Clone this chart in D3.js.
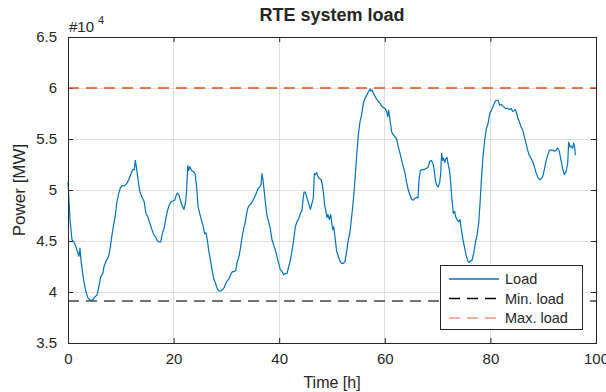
<!DOCTYPE html>
<html><head><meta charset="utf-8">
<script src="https://cdn.jsdelivr.net/npm/d3@7"></script>
<style>
html,body{margin:0;padding:0;background:#fff;}
svg text{font-family:"Liberation Sans",Arial,Helvetica,sans-serif;fill:#262626;}
</style></head>
<body>
<svg id="chart" width="606" height="392"></svg>
<script>
const hours = [0.0,0.38,0.76,1.14,1.52,1.89,2.08,2.27,2.46,2.78,3.09,3.41,3.79,4.17,4.67,5.05,5.49,5.81,6.19,6.57,6.88,7.2,7.7,8.02,8.33,8.65,8.96,9.22,9.53,9.91,10.23,10.67,11.1,11.49,11.93,12.25,12.56,12.75,13.0,13.32,13.64,14.0,14.4,14.77,15.09,15.4,15.72,16.04,16.35,16.6,16.92,17.23,17.55,17.86,18.18,18.5,18.81,19.13,19.45,19.76,20.2,20.52,20.71,21.02,21.34,21.66,21.97,22.29,22.48,22.67,22.86,23.04,23.23,23.42,23.74,24.05,24.37,24.62,24.94,25.25,25.63,25.88,26.14,26.39,26.64,27.02,27.34,27.65,27.97,28.29,28.6,28.91,29.23,29.55,29.86,30.18,30.5,30.81,31.13,31.44,31.76,32.07,32.39,32.7,32.95,33.27,33.59,33.78,34.03,34.34,34.72,35.04,35.35,35.67,35.98,36.3,36.55,36.74,36.93,37.18,37.44,37.69,38.0,38.32,38.64,38.95,39.27,39.58,39.9,40.21,40.53,40.85,41.16,41.48,41.8,42.11,42.42,42.74,43.06,43.37,43.69,44.0,44.32,44.51,44.7,44.95,45.27,45.58,45.9,46.21,46.46,46.65,46.84,47.1,47.35,47.66,47.98,48.23,48.42,48.61,48.86,49.05,49.24,49.5,49.75,50.0,50.13,50.32,50.57,50.88,51.2,51.52,51.83,52.15,52.46,52.78,53.09,53.41,53.73,54.04,54.36,54.67,54.99,55.3,55.62,55.94,56.25,56.57,56.88,57.2,57.39,57.58,57.83,58.14,58.46,58.78,59.09,59.41,59.72,60.04,60.35,60.54,60.73,60.98,61.3,61.62,61.93,62.25,62.56,62.88,63.2,63.51,63.83,64.14,64.46,64.77,65.09,65.4,65.72,66.04,66.29,66.48,66.73,67.05,67.42,67.8,68.18,68.5,68.8,69.13,69.32,69.57,69.82,70.08,70.39,70.58,70.77,70.96,71.15,71.34,71.59,71.78,71.97,72.29,72.48,72.73,72.98,73.23,73.42,73.67,73.99,74.24,74.5,74.81,75.13,75.45,75.76,76.02,76.27,76.52,76.84,77.15,77.47,77.78,78.04,78.29,78.6,78.92,79.23,79.55,79.87,80.18,80.5,80.81,81.13,81.44,81.76,82.07,82.39,82.83,83.27,83.59,83.9,84.22,84.53,84.72,84.97,85.23,85.48,85.8,86.11,86.43,86.74,87.06,87.37,87.69,88.0,88.32,88.64,88.95,89.27,89.58,89.9,90.21,90.53,90.85,91.16,91.48,91.8,92.11,92.42,92.74,93.06,93.37,93.69,94.0,94.32,94.64,94.82,95.08,95.33,95.58,95.77,95.96,96.08];
const loadMW = [50800,47100,45100,44900,44400,43800,43500,44300,43100,41800,40800,40000,39400,39200,39200,39500,39700,40400,41500,41800,42600,43000,43500,44400,45600,46600,47500,48700,49500,50200,50400,50400,50600,51000,51600,52000,52000,52900,52100,50800,49800,49300,48900,47700,47400,46900,46400,45900,45500,45400,45000,44900,44900,45700,46200,47100,47900,48500,48800,48900,49000,49500,49700,49500,48900,48400,48100,48900,50000,52400,51900,52300,52100,51900,51800,51600,50300,48400,47700,47100,46400,45700,45800,45100,44100,43000,42000,41200,40800,40300,40100,40100,40200,40400,40800,41100,41300,41700,42000,42000,42100,43000,43500,44400,45300,46200,46900,47500,48200,48500,48700,49000,49300,49700,50100,50300,50500,51600,51000,49800,48500,47500,46900,46200,45100,44600,44100,43500,42800,42200,42000,41700,41800,41800,42500,43100,44000,45100,46400,46900,47200,47700,48000,49000,49800,49800,49200,48700,48100,48700,49200,51600,51500,51700,51300,51100,51000,50300,49500,48500,47900,47300,47600,47100,47600,46600,46100,46400,45400,44000,43500,43000,42800,42800,43000,44000,45100,45900,47400,49000,51000,53400,55400,56700,57400,58500,59000,59300,59600,59900,59700,59800,59500,59200,58900,58700,58500,58200,58100,58000,57700,57200,57800,56900,55700,55400,55200,55000,54200,53600,52900,52300,51600,50700,50000,49500,49100,49000,49200,49300,49200,51000,51900,52000,52000,52100,52200,52800,52900,52600,52100,51000,50500,50300,50700,51600,53600,52900,53100,52700,53100,53200,52600,51800,50700,49000,47700,47900,47400,47100,46900,47100,46100,45100,44300,43500,43000,42900,43100,43100,43800,44800,45600,46700,48700,51000,53300,54900,56000,56500,57500,57800,58200,58600,58800,58800,58300,58400,58200,58000,58000,57900,58000,57700,57800,57900,57500,57000,56700,56200,55900,55200,54600,53900,53400,53100,52800,52300,51700,51300,51000,51100,51300,52000,52800,53400,53900,53900,53900,53800,53900,54100,53800,52900,52100,51500,51800,52600,54700,54200,54300,54100,54600,54200,53400];
const minLoad = 39120;
const maxLoad = 60000;
const xTicks = [0,20,40,60,80,100];
const yTicks = [35000,40000,45000,50000,55000,60000,65000];
const yTickLabels = ["3.5","4","4.5","5","5.5","6","6.5"];
const legendLabels = ["Load","Min. load","Max. load"];
const colors = {load:"#0072BD", min:"#262626", max:"#D95319"};

const svg = d3.select("#chart");
const L = 68, R = 596, T = 37, B = 343;
const x = d3.scaleLinear().domain([0,100]).range([L,R]);
const y = d3.scaleLinear().domain([35000,65000]).range([B,T]);
const axisColor = "#262626";

// grid
const g = svg.append("g");
g.selectAll(".gx").data(xTicks).join("line")
  .attr("x1",d=>x(d)).attr("x2",d=>x(d)).attr("y1",T).attr("y2",B)
  .attr("stroke","#dfdfdf").attr("stroke-width",1).attr("shape-rendering","crispEdges");
g.selectAll(".gy").data(yTicks).join("line")
  .attr("x1",L).attr("x2",R).attr("y1",d=>y(d)).attr("y2",d=>y(d))
  .attr("stroke","#dfdfdf").attr("stroke-width",1).attr("shape-rendering","crispEdges");

// axes
const xAxis = svg.append("g").attr("transform",`translate(0,${B})`)
  .call(d3.axisBottom(x).tickValues(xTicks).tickSize(-5).tickPadding(10).tickFormat(d3.format("d")));
const xAxisTop = svg.append("g").attr("transform",`translate(0,${T})`)
  .call(d3.axisTop(x).tickValues(xTicks).tickSize(-5).tickFormat(""));
const yAxis = svg.append("g").attr("transform",`translate(${L},0)`)
  .call(d3.axisLeft(y).tickValues(yTicks).tickSize(-5).tickPadding(11).tickFormat((d,i)=>yTickLabels[i]));
const yAxisR = svg.append("g").attr("transform",`translate(${R},0)`)
  .call(d3.axisRight(y).tickValues(yTicks).tickSize(-5).tickFormat(""));
[xAxis,xAxisTop,yAxis,yAxisR].forEach(a=>{
  a.select(".domain").remove();
  a.selectAll("line").attr("stroke",axisColor);
  a.selectAll("text").attr("fill",axisColor).style("font-size","15px")
   .style("font-family","'Liberation Sans',Arial,sans-serif");
});

// reference lines
svg.append("line").attr("x1",L).attr("x2",R).attr("y1",y(minLoad)).attr("y2",y(minLoad))
  .attr("stroke",colors.min).attr("stroke-width",1.5).attr("stroke-dasharray","11,7").attr("opacity",0.85);
svg.append("line").attr("x1",L).attr("x2",R).attr("y1",y(maxLoad)).attr("y2",y(maxLoad))
  .attr("stroke",colors.max).attr("stroke-width",1.5).attr("stroke-dasharray","11,7");

// load line
const data = hours.map((h,i)=>[h,loadMW[i]]);
svg.append("path").datum(data)
  .attr("fill","none").attr("stroke",colors.load).attr("stroke-width",1.2)
  .attr("stroke-linejoin","round")
  .attr("d",d3.line().x(d=>x(d[0])).y(d=>y(d[1])));

// box
svg.append("rect").attr("x",L).attr("y",T).attr("width",R-L).attr("height",B-T)
  .attr("fill","none").attr("stroke",axisColor).attr("stroke-width",1).attr("shape-rendering","crispEdges");

// exponent label
const ex = svg.append("text").attr("x",69).attr("y",32).style("font-size","15px");
ex.append("tspan").text("#10");
ex.append("tspan").attr("dx",4).attr("dy",-8).style("font-size","11px").text("4");

// title & axis labels
svg.append("text").attr("x",(L+R)/2).attr("y",21).attr("text-anchor","middle")
  .style("font-size","18px").style("font-weight","bold").attr("fill","#000").text("RTE system load");
svg.append("text").attr("x",(L+R)/2).attr("y",388).attr("text-anchor","middle")
  .style("font-size","16px").text("Time [h]");
svg.append("text").attr("transform",`translate(25,${(T+B)/2}) rotate(-90)`).attr("text-anchor","middle")
  .style("font-size","17px").text("Power [MW]");

// legend
const lg = svg.append("g");
lg.append("rect").attr("x",440).attr("y",265).attr("width",142).attr("height",64)
  .attr("fill","#fff").attr("stroke",axisColor).attr("stroke-width",1).attr("shape-rendering","crispEdges");
const legendStyles = [
  {c:colors.load, dash:null, w:1.5},
  {c:"#000", dash:"11,7", w:1.3},
  {c:"#E8967A", dash:"11,7", w:1.5}
];
legendLabels.forEach((lab,i)=>{
  const yy = 279 + i*19.5;
  lg.append("line").attr("x1",449).attr("x2",499).attr("y1",yy).attr("y2",yy)
    .attr("stroke",legendStyles[i].c).attr("stroke-width",legendStyles[i].w)
    .attr("stroke-dasharray",legendStyles[i].dash);
  lg.append("text").attr("x",505).attr("y",yy+5).style("font-size","14.5px").text(lab);
});
</script>
</body></html>
